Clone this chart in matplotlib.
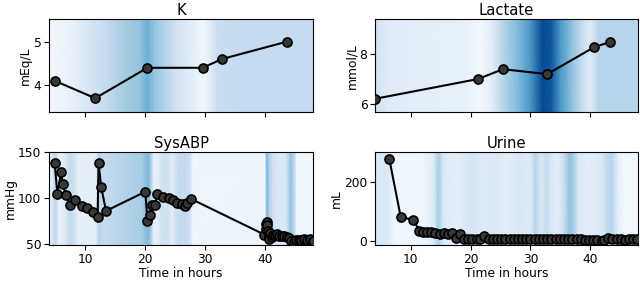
import numpy as np
import matplotlib
matplotlib.use("Agg")
import matplotlib.pyplot as plt

# ---- data ----
k_t = [4.95, 11.7, 20.4, 29.6, 32.8, 43.6]
k_v = [4.1, 3.7, 4.4, 4.4, 4.6, 5.0]

lac_t = [4.0, 21.2, 25.4, 32.8, 40.7, 43.3]
lac_v = [6.2, 7.0, 7.4, 7.2, 8.3, 8.5]

sbp_t = [4.95, 5.4, 6.0, 6.3, 6.8, 7.5, 8.35, 9.5, 10.3, 11.3, 12.1, 12.25, 12.7, 13.5,
         20.05, 20.4, 20.9, 21.2, 21.7, 22.0, 23.0, 24.0, 24.6, 25.35, 26.2, 26.6, 27.0, 27.7,
         39.9, 40.1, 40.2, 40.3, 40.4, 40.5, 40.6, 40.7, 40.9, 41.1, 41.3, 41.6, 42.0, 42.4,
         42.8, 43.2, 43.6, 44.0, 44.4, 44.8, 45.2, 45.6, 46.0, 46.5, 47.0, 47.5, 48.0]
sbp_v = [138, 104, 129, 116, 103, 93, 98, 91, 89, 85, 79, 138, 112, 86,
         107, 75, 81, 92, 92, 104, 101, 100, 98, 95, 94, 91, 95, 99,
         60, 66, 72, 74, 70, 64, 58, 55, 62, 57, 60, 60, 61, 59,
         58, 58, 57, 56, 53, 52, 54, 54, 54, 55, 54, 55, 53]

uri_t = [6.4, 8.3, 10.4, 11.4, 12.0, 12.7, 13.4, 14.1, 14.8, 15.5, 16.2, 16.9, 17.5, 18.2,
         18.9, 19.6, 20.3, 21.0, 21.6, 22.3, 23.0, 23.7, 24.4, 25.1, 25.8, 26.5, 27.2, 27.9,
         28.6, 29.3, 30.0, 30.7, 31.4, 32.1, 32.8, 33.5, 34.2, 34.9, 35.6, 36.3, 37.0, 37.7,
         38.4, 39.1, 39.8, 40.5, 41.2, 41.9, 42.3, 43.0, 43.7, 44.4, 45.1, 45.8, 46.5, 47.2, 47.9]
uri_v = [278, 81, 72, 35, 32, 30, 30, 27, 25, 26, 25, 27, 10, 22,
         8, 5, 6, 5, 8, 18, 6, 5, 8, 6, 6, 5, 6, 5,
         6, 5, 5, 5, 6, 5, 5, 5, 6, 5, 5, 5, 6, 5,
         5, 4, 4, 3, 2, 1, 3, 9, 6, 5, 5, 4, 5, 5, 8]

# ---- attention (background) weights ----
k_att_t = [4, 8, 13.5, 16.5, 19.2, 20.4, 21.5, 25, 28.5, 29.8, 32, 36, 48]
k_att_w = [0.03, 0.08, 0.25, 0.35, 0.4, 0.5, 0.4, 0.2, 0.08, 0.03, 0.22, 0.25, 0.25]

lac_att_t = [4, 6, 12, 19, 21.5, 23.5, 25.5, 28, 30, 32, 33.5, 35, 37, 39, 40, 41.5, 48]
lac_att_w = [0.2, 0.12, 0.1, 0.08, 0.02, 0.1, 0.3, 0.45, 0.6, 0.9, 0.85, 0.6, 0.4, 0.2, 0.12, 0.3, 0.3]

sbp_att_t = [4, 4.4, 4.8, 5.2, 5.6, 6.2, 6.8, 7.4, 8.2, 8.8, 11.8, 12.3, 13, 16, 19.5, 20.5,
             21, 21.4, 22.2, 22.8, 23.8, 24.5, 25.5, 26.7, 27.5, 28, 40, 40.3, 40.8, 41.3,
             42, 43.5, 44.3, 44.8, 45.3, 48]
sbp_att_w = [0.08, 0.08, 0.25, 0.25, 0.08, 0.1, 0.15, 0.25, 0.2, 0.1, 0.1, 0.3, 0.25, 0.3, 0.35, 0.45,
             0.35, 0.1, 0.1, 0.2, 0.2, 0.1, 0.25, 0.25, 0.2, 0.05, 0.06, 0.45, 0.3, 0.2,
             0.15, 0.15, 0.4, 0.3, 0.05, 0.05]

uri_att_t = [4, 6, 7.2, 12, 13.8, 14.6, 15.4, 16, 18, 20, 22, 24, 26, 28, 30, 30.8, 31.4, 32,
             32.6, 33.5, 34.5, 35.5, 36.5, 37.2, 38, 39.5, 41, 42, 42.8, 43.6, 44.6, 45.4, 48]
uri_att_w = [0.15, 0.15, 0.05, 0.05, 0.12, 0.35, 0.15, 0.12, 0.1, 0.18, 0.12, 0.15, 0.1, 0.15, 0.12, 0.3, 0.2, 0.15,
             0.25, 0.15, 0.1, 0.2, 0.4, 0.35, 0.15, 0.1, 0.12, 0.15, 0.25, 0.3, 0.1, 0.04, 0.04]

titles = ["K", "Lactate", "SysABP", "Urine"]
units = ["mEq/L", "mmol/L", "mmHg", "mL"]
ylims = [(3.38, 5.52), (5.66, 9.43), (48.6, 150.5), (-14, 303)]
yticks = [[4, 5], [6, 8], [50, 100, 150], [0, 200]]
xticks = [10, 20, 30, 40]
xlim = (4, 48)

series = [(k_t, k_v, k_att_t, k_att_w), (lac_t, lac_v, lac_att_t, lac_att_w),
          (sbp_t, sbp_v, sbp_att_t, sbp_att_w), (uri_t, uri_v, uri_att_t, uri_att_w)]

plt.rcParams['font.size'] = 8.8
fig = plt.figure(figsize=(6.4, 2.81), dpi=100)
rects = [(0.0766, 0.601, 0.4125, 0.331), (0.586, 0.601, 0.411, 0.331),
         (0.0766, 0.128, 0.4125, 0.331), (0.586, 0.128, 0.411, 0.331)]

for i, (rect, (t, v, at, aw)) in enumerate(zip(rects, series)):
    ax = fig.add_axes(rect)
    y0, y1 = ylims[i]
    X = np.array([at, at])
    Y = np.array([[y0] * len(at), [y1] * len(at)])
    C = np.array([aw, aw])
    ax.pcolormesh(X, Y, C, shading='gouraud', cmap='Blues', vmin=0, vmax=1, zorder=0)
    ax.plot(t, v, '-o', color='black', lw=1.5, ms=6.5, mfc='#383838', mec='black', mew=1.2, zorder=3)
    ax.set_xlim(*xlim)
    ax.set_ylim(y0, y1)
    ax.set_yticks(yticks[i])
    ax.set_xticks(xticks)
    ax.set_title(titles[i], fontsize=10.6, pad=3)
    ax.set_ylabel(units[i], labelpad=1)
    ax.tick_params(length=3.5, pad=2)
    if i < 2:
        ax.set_xticklabels([])
    else:
        ax.set_xlabel("Time in hours", labelpad=1)

fig.savefig("out.png", dpi=100)
